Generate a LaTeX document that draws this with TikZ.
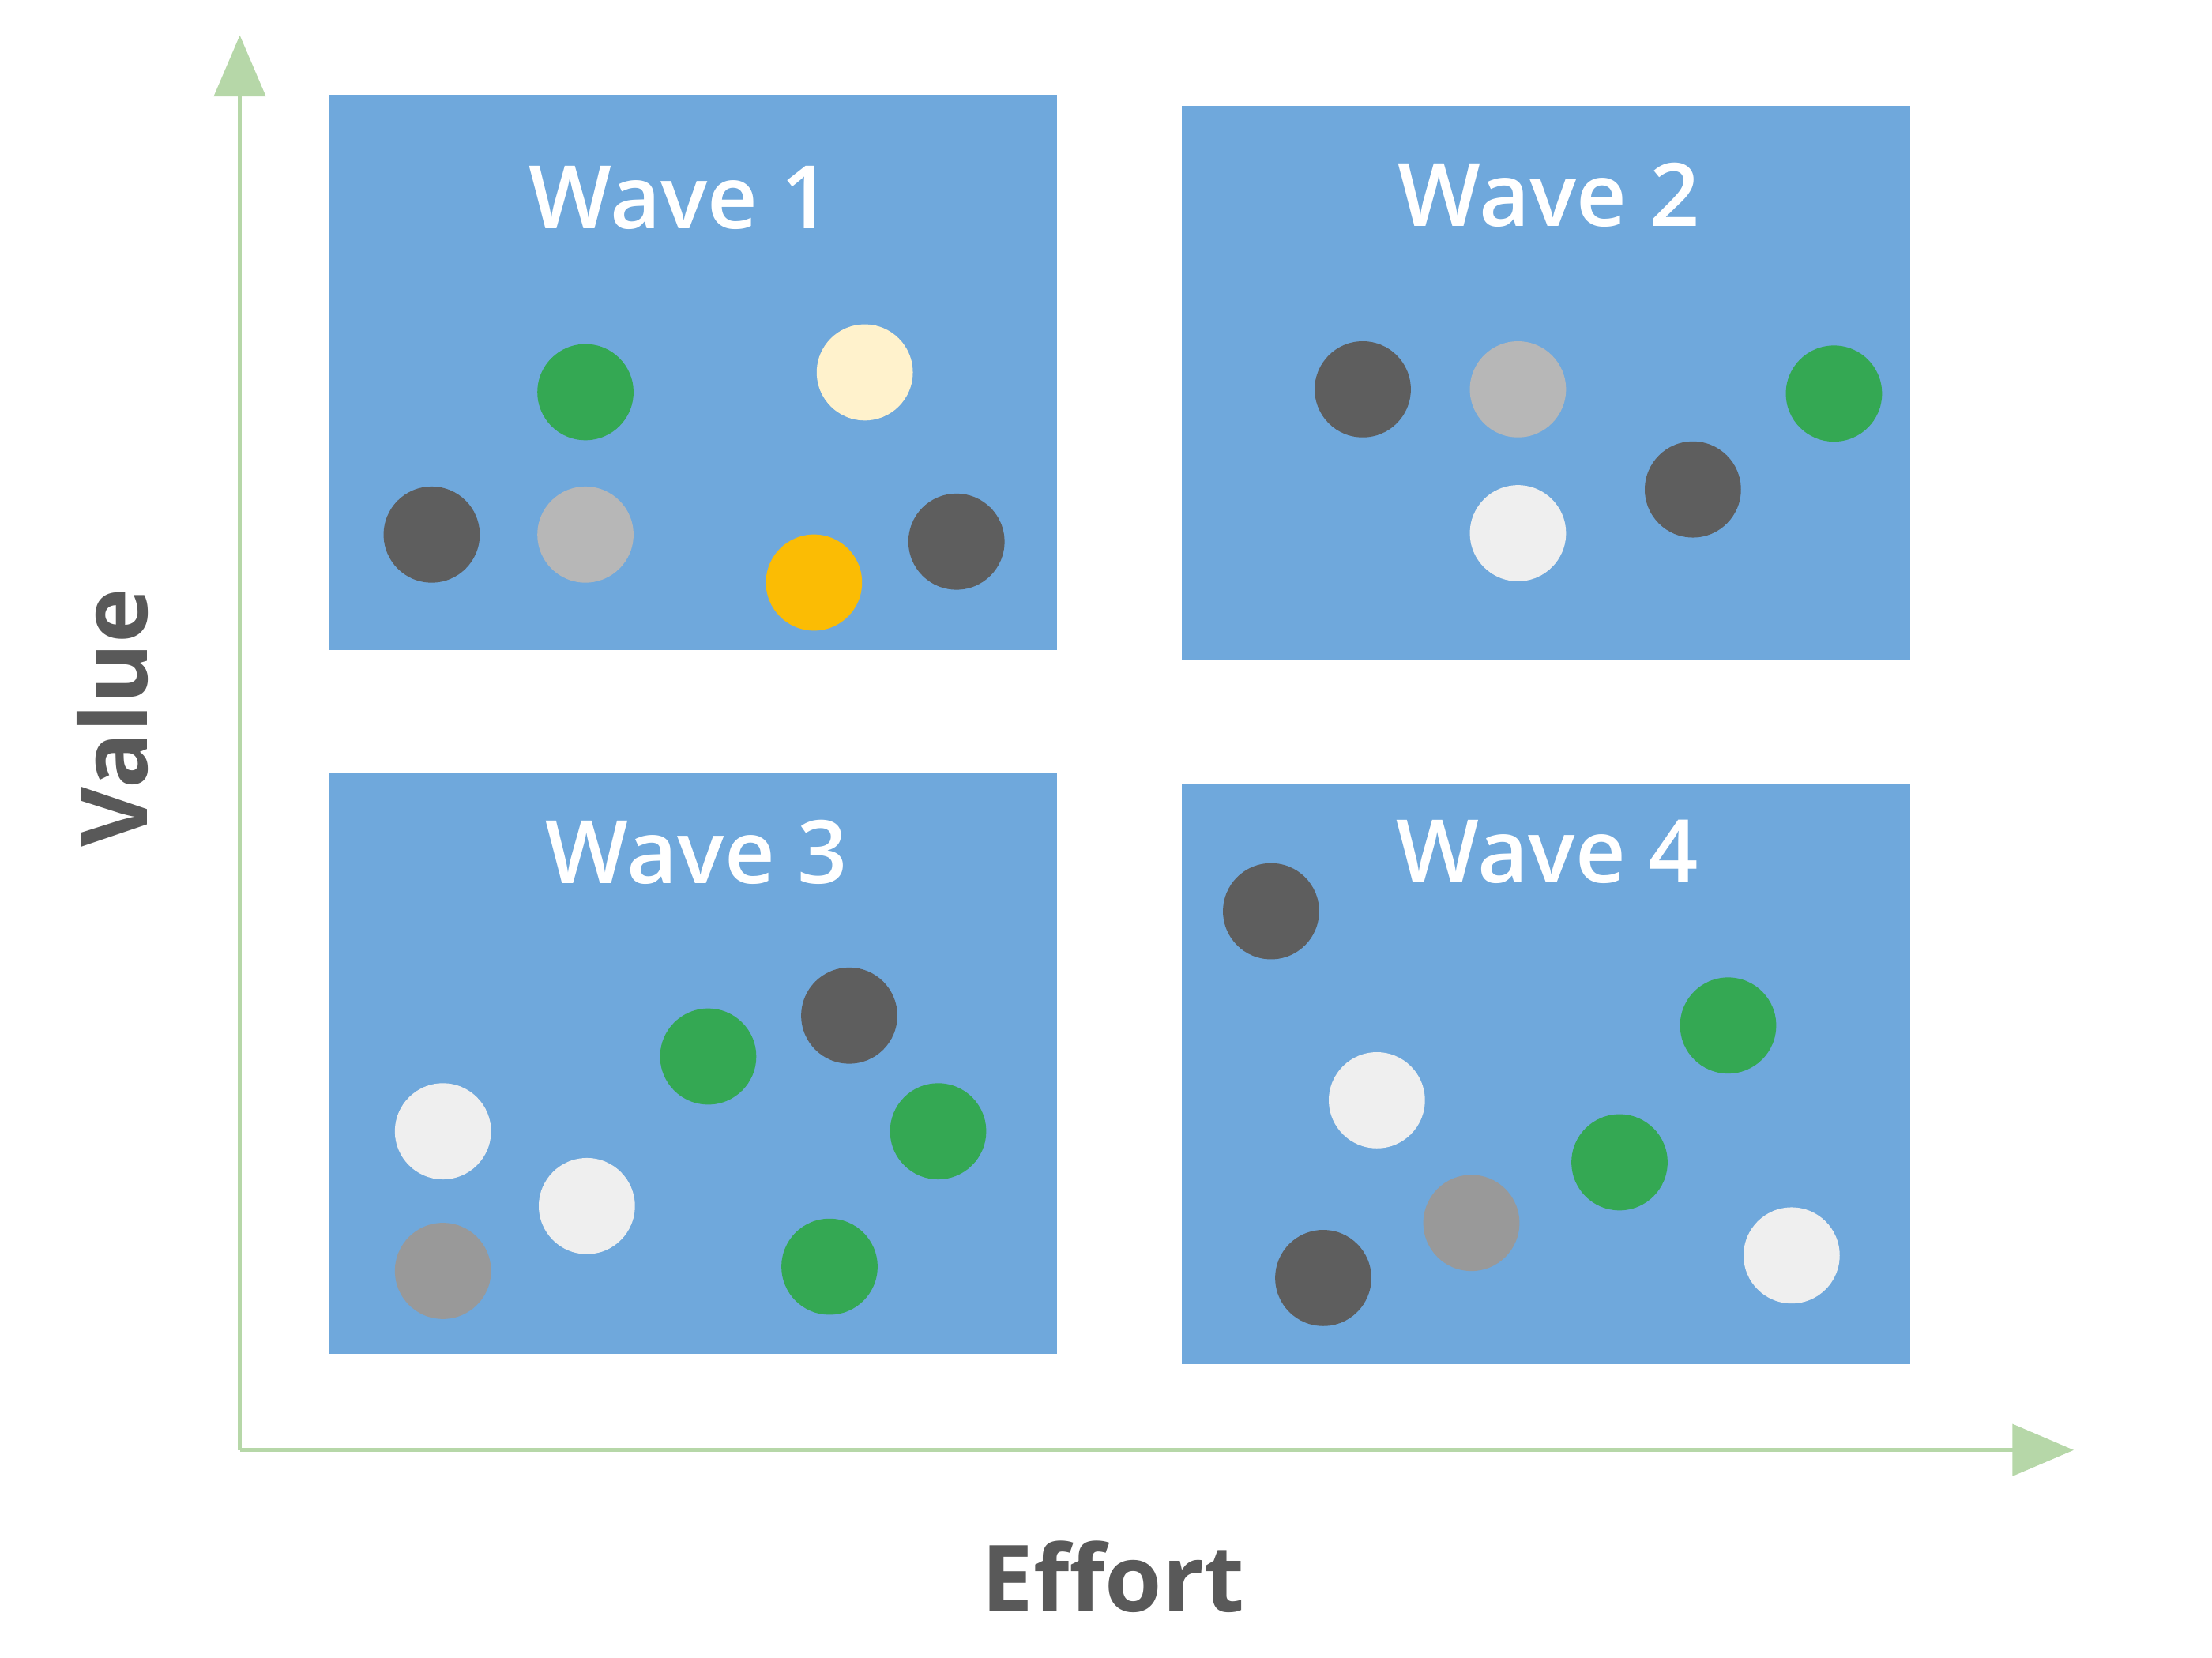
\documentclass[tikz,border=0pt]{standalone}
\usepackage{fontspec}
\setmainfont{Open Sans}
\newfontfamily\titlefont{Open Sans}[UprightFont={* Semibold}]
\newfontfamily\labelfont{Open Sans}[UprightFont={* Bold}]
\usetikzlibrary{arrows.meta}
\definecolor{boxblue}{HTML}{6FA8DC}
\definecolor{axisgreen}{HTML}{B6D7A8}
\definecolor{dgray}{HTML}{5E5E5E}
\definecolor{lgray}{HTML}{B7B7B7}
\definecolor{mgray}{HTML}{999999}
\definecolor{dotgreen}{HTML}{34A853}
\definecolor{cream}{HTML}{FFF2CC}
\definecolor{amber}{HTML}{FBBC04}
\definecolor{offwhite}{HTML}{EFEFEF}
\definecolor{labelgray}{HTML}{595959}
\tikzset{
  wavebox/.style={fill=boxblue, draw=none},
  wavetitle/.style={text=white, font=\titlefont\fontsize{35}{42}\selectfont, inner sep=0pt},
  dot/.style={circle, minimum size=1.35cm, inner sep=0pt, draw=none, fill=#1},
  axis/.style={draw=axisgreen, line width=1.6pt, -{Triangle[length=0.86cm, width=0.72cm]}},
  axlabel/.style={text=labelgray, font=\labelfont\fontsize{37}{44}\selectfont, inner sep=0pt}
}
\begin{document}
\begin{tikzpicture}[x=0.019809cm, y=-0.019809cm]
\useasboundingbox (0,0) rectangle (1568,1175);
% boxes
\fill[wavebox] (233,67) rectangle (749,461);
\fill[wavebox] (838,75) rectangle (1354,468);
\fill[wavebox] (233,548) rectangle (749,960);
\fill[wavebox] (838,556) rectangle (1354,967);
% titles
\node[wavetitle] (t1) at (482,140) {Wave 1};
\node[wavetitle] (t2) at (1098,138) {Wave 2};
\node[wavetitle] (t3) at (494,604) {Wave 3};
\node[wavetitle] (t4) at (1097,604) {Wave 4};
% wave 1 dots
\node[dot=dotgreen] (a1) at (415,278) {};
\node[dot=cream] (a2) at (613,264) {};
\node[dot=dgray] (a3) at (306,379) {};
\node[dot=lgray] (a4) at (415,379) {};
\node[dot=amber] (a5) at (577,413) {};
\node[dot=dgray] (a6) at (678,384) {};
% wave 2 dots
\node[dot=dgray] (b1) at (966,276) {};
\node[dot=lgray] (b2) at (1076,276) {};
\node[dot=dotgreen] (b3) at (1300,279) {};
\node[dot=dgray] (b4) at (1200,347) {};
\node[dot=offwhite] (b5) at (1076,378) {};
% wave 3 dots
\node[dot=offwhite] (c1) at (314,802) {};
\node[dot=mgray] (c2) at (314,901) {};
\node[dot=offwhite] (c3) at (416,855) {};
\node[dot=dotgreen] (c4) at (502,749) {};
\node[dot=dgray] (c5) at (602,720) {};
\node[dot=dotgreen] (c6) at (665,802) {};
\node[dot=dotgreen] (c7) at (588,898) {};
% wave 4 dots
\node[dot=dgray] (d1) at (901,646) {};
\node[dot=offwhite] (d2) at (976,780) {};
\node[dot=dotgreen] (d3) at (1225,727) {};
\node[dot=dotgreen] (d4) at (1148,824) {};
\node[dot=mgray] (d5) at (1043,867) {};
\node[dot=dgray] (d6) at (938,906) {};
\node[dot=offwhite] (d7) at (1270,890) {};
% axes
\coordinate (o) at (170,1028);
\coordinate (ytip) at (170,25);
\coordinate (xtip) at (1470,1028);
\draw[axis] (o) -- (ytip);
\draw[axis] (o) -- (xtip);
% labels
\node[axlabel, rotate=90] (vl) at (80,509) {Value};
\node[axlabel] (el) at (789,1118) {Effort};
\end{tikzpicture}
\end{document}
